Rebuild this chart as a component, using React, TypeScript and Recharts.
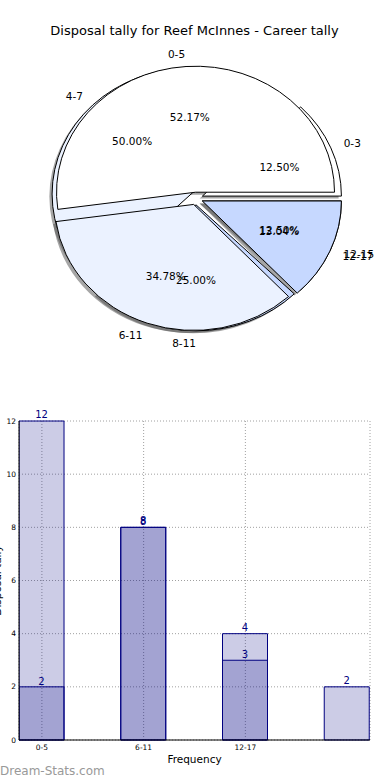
import React from 'react';
import { PieChart, Pie, BarChart, Bar, XAxis, YAxis, CartesianGrid, LabelList } from 'recharts';

// ---------- data ----------
const pieACats = ['0-5', '6-11', '12-17'];
const pieAValues = [12, 8, 3];
const pieBCats = ['0-3', '4-7', '8-11', '12-15'];
const pieBValues = [2, 8, 4, 2];
const pieColors = ['#ffffff', '#ebf2ff', '#c6d8ff'];
const explodeA = [0.05, 0.05, 0.05];
const explodeB = [0.05, 0.05, 0.05, 0.05];

const barCats = ['0-5', '6-11', '12-17', ''];
const barLight = [12, 8, 4, 2];
const barDark: (number | null)[] = [2, 8, 3, null];
const yTicks = [0, 2, 4, 6, 8, 10, 12];
const xTicks = [0, 1, 2];

const pieAData = pieACats.map((name, i) => ({ name, value: pieAValues[i], color: pieColors[i % 3], explode: explodeA[i] }));
const pieBData = pieBCats.map((name, i) => ({ name, value: pieBValues[i], color: pieColors[i % 3], explode: explodeB[i] }));
const barData = barCats.map((cat, i) => ({ x: i, cat, light: barLight[i], dark: barDark[i] }));

// ---------- style ----------
const FONT = '"DejaVu Sans", "Liberation Sans", sans-serif';
const ASPECT = 126 / 139;
const PIE_CX = 196;
const PIE_CY = 198.5;
const PIE_R = 139;
const NAVY = '#000080';

const RAD = Math.PI / 180;

function geom(p: any) {
  const rx = p.outerRadius;
  const ry = rx * ASPECT;
  const mid = ((p.startAngle + p.endAngle) / 2) * RAD;
  const e = (p.payload && p.payload.explode) ?? p.explode ?? 0;
  const cx = p.cx + e * rx * Math.cos(mid);
  const cy = p.cy - e * ry * Math.sin(mid);
  return { rx, ry, mid, cx, cy };
}

function wedgePath(cx: number, cy: number, rx: number, ry: number, a0: number, a1: number) {
  const r0 = a0 * RAD;
  const r1 = a1 * RAD;
  const x0 = cx + rx * Math.cos(r0);
  const y0 = cy - ry * Math.sin(r0);
  const x1 = cx + rx * Math.cos(r1);
  const y1 = cy - ry * Math.sin(r1);
  const large = a1 - a0 > 180 ? 1 : 0;
  return `M${cx},${cy}L${x0},${y0}A${rx},${ry} 0 ${large} 0 ${x1},${y1}Z`;
}

const renderShadow = (p: any) => {
  const g = geom(p);
  const dx = -0.02 * g.rx;
  const dy = 0.02 * g.ry;
  return (
    <path
      key={`s-${p.index}`}
      d={wedgePath(g.cx + dx, g.cy + dy, g.rx, g.ry, p.startAngle, p.endAngle)}
      fill="#4d4d4d"
      fillOpacity={0.5}
      stroke="none"
    />
  );
};

const renderWedge = (p: any) => {
  const g = geom(p);
  const color = (p.payload && p.payload.color) || p.color || '#fff';
  return (
    <path
      key={`w-${p.index}`}
      d={wedgePath(g.cx, g.cy, g.rx, g.ry, p.startAngle, p.endAngle)}
      fill={color}
      stroke="#000"
      strokeWidth={1}
      strokeLinejoin="round"
    />
  );
};

const renderTexts = (p: any) => {
  const g = geom(p);
  const c = Math.cos(g.mid);
  const s = Math.sin(g.mid);
  const lx = g.cx + 1.1 * g.rx * c;
  const ly = g.cy - 1.1 * g.ry * s;
  const px = g.cx + 0.6 * g.rx * c;
  const py = g.cy - 0.6 * g.ry * s;
  const name = (p.payload && p.payload.name) || p.name;
  return (
    <g key={`t-${p.index}`}>
      <text x={lx} y={ly} textAnchor={c > 0 ? 'start' : 'end'} dominantBaseline="central" fontSize={10.5} fill="#000" fontFamily={FONT}>
        {name}
      </text>
      <text x={px} y={py} textAnchor="middle" dominantBaseline="central" fontSize={10.5} fill="#000" fontFamily={FONT}>
        {`${(p.percent * 100).toFixed(2)}%`}
      </text>
    </g>
  );
};

const pieCommon = {
  dataKey: 'value',
  nameKey: 'name',
  cx: PIE_CX,
  cy: PIE_CY,
  outerRadius: PIE_R,
  startAngle: 0,
  endAngle: 360,
  fill: 'none',
  stroke: 'none',
  isAnimationActive: false,
  labelLine: false,
};

export default function App() {
  return (
    <div style={{ position: 'absolute', left: 0, top: 0, width: 390, height: 780, fontFamily: FONT, background: '#fff' }}>
      <div style={{ position: 'absolute', left: 0, top: 0 }}>
        <PieChart width={390} height={390} margin={{ top: 0, right: 0, bottom: 0, left: 0 }}>
          <text x={194.5} y={34.5} textAnchor="middle" fontSize={13} fill="#000" fontFamily={FONT}>
            Disposal tally for Reef McInnes - Career tally
          </text>
          <Pie {...(pieCommon as any)} data={pieBData} label={renderShadow} />
          <Pie {...(pieCommon as any)} data={pieAData} label={renderShadow} />
          <Pie {...(pieCommon as any)} data={pieBData} label={renderWedge} />
          <Pie {...(pieCommon as any)} data={pieAData} label={renderWedge} />
          <Pie {...(pieCommon as any)} data={pieBData} label={renderTexts} />
          <Pie {...(pieCommon as any)} data={pieAData} label={renderTexts} />
        </PieChart>
      </div>
      <div style={{ position: 'absolute', left: 0, top: 390 }}>
        <BarChart
          width={390}
          height={390}
          data={barData}
          margin={{ top: 31, right: 20, bottom: 0, left: 0 }}
          barGap={-45}
          barSize={45}
        >
          <CartesianGrid stroke="#a0a0a0" strokeDasharray="1 2" />
          <XAxis
            dataKey="x"
            type="number"
            domain={[-0.225, 3.225]}
            allowDataOverflow
            ticks={xTicks}
            interval={0}
            tickFormatter={(v: number) => barCats[v] ?? ''}
            tick={{ fontSize: 7.5, fill: '#000' }}
            tickLine={false}
            tickSize={2}
            tickMargin={3}
            height={40}
            axisLine={{ stroke: '#000' }}
            label={{ value: 'Frequency', position: 'insideBottom', offset: 17, fontSize: 10.5, fill: '#000' }}
          />
          <XAxis
            xAxisId="top"
            orientation="top"
            dataKey="x"
            type="number"
            domain={[-0.225, 3.225]}
            allowDataOverflow
            tick={false}
            tickLine={false}
            height={0}
            axisLine={{ stroke: '#000' }}
          />
          <YAxis
            domain={[0, 12]}
            ticks={yTicks}
            interval={0}
            tick={{ fontSize: 7.5, fill: '#000' }}
            tickLine={false}
            tickSize={1}
            tickMargin={2}
            width={19}
            axisLine={{ stroke: '#000' }}
            label={{ value: 'Disposal tally', angle: -90, position: 'center', dx: -12.5, fontSize: 10.5, fill: '#000' }}
          />
          <YAxis
            yAxisId="right"
            orientation="right"
            domain={[0, 12]}
            tick={false}
            tickLine={false}
            width={0}
            axisLine={{ stroke: '#000' }}
          />
          <Bar dataKey="light" fill={NAVY} fillOpacity={0.2} stroke={NAVY} strokeWidth={1} isAnimationActive={false}>
            <LabelList dataKey="light" position="top" offset={3} fill={NAVY} fontSize={10} />
          </Bar>
          <Bar dataKey="dark" fill={NAVY} fillOpacity={0.2} stroke={NAVY} strokeWidth={1} isAnimationActive={false}>
            <LabelList dataKey="dark" position="top" offset={2} fill={NAVY} fontSize={10} />
          </Bar>
          <text x={0} y={385} fontSize={12} fill="#999" fontFamily={FONT}>
            Dream-Stats.com
          </text>
        </BarChart>
      </div>
    </div>
  );
}
